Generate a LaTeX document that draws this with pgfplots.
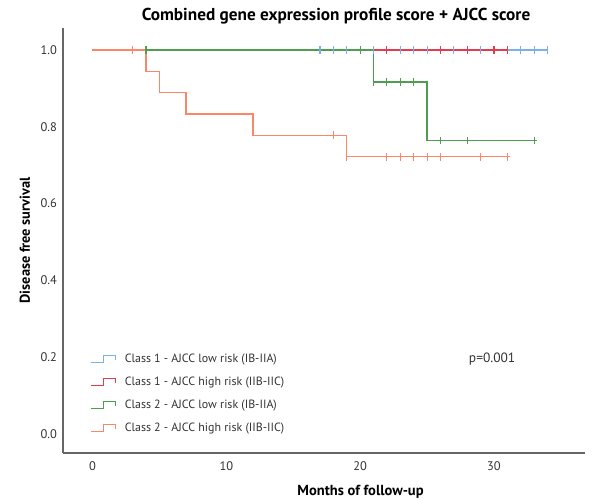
\documentclass[border=0pt]{standalone}
\usepackage{fontspec}
\setmainfont{PT Sans}
\usepackage{pgfplots}
\pgfplotsset{compat=1.18}

\definecolor{kmblue}{HTML}{7AB2E4}
\definecolor{kmred}{HTML}{E23C50}
\definecolor{kmgreen}{HTML}{4F9E4F}
\definecolor{kmorange}{HTML}{FA8868}
\definecolor{axgray}{HTML}{666666}
\definecolor{txtgray}{HTML}{333333}

\pgfplotsset{
  km/.style={const plot, line width=1.4bp, mark=none},
  cens/.style={only marks, mark=|, mark size=3.8bp, line width=1.1bp, forget plot},
}

\begin{document}
\begin{tikzpicture}
\useasboundingbox (0,0) rectangle (592bp,500bp);
\begin{axis}[
    at={(63bp,47bp)}, anchor=south west,
    scale only axis,
    width=522bp, height=425bp,
    xmin=-2.2, xmax=36.8,
    ymin=-0.0495, ymax=1.0573,
    axis x line*=bottom, axis y line*=left,
    axis line style={axgray, line width=1.2bp, -},
    xtick={0,10,20,30},
    ytick={0,0.2,0.4,0.6,0.8,1.0},
    major tick length=0pt,
    /pgf/number format/assume math mode=true,
    tick label style={font=\fontsize{12.5}{14}\selectfont, text=txtgray},
    xticklabel style={anchor=center, yshift=-13bp},
    yticklabel style={anchor=east, inner sep=0pt, xshift=-6bp,
      /pgf/number format/fixed, /pgf/number format/fixed zerofill,
      /pgf/number format/precision=1},
    title={Combined gene expression profile score + AJCC score},
    title style={at={(axis cs:18.2,1.073)}, anchor=center, font=\bfseries\fontsize{17.3}{20}\selectfont},
    xlabel={Months of follow-up},
    xlabel style={at={(axis cs:20.03,-0.151)}, anchor=center, font=\bfseries\fontsize{14.6}{17}\selectfont},
    ylabel={Disease free survival},
    ylabel style={at={(axis cs:-5.04,0.504)}, anchor=center, font=\bfseries\fontsize{14.4}{17}\selectfont},
    clip=false,
    legend cell align=left,
    legend style={at={(rel axis cs:0.046,0.24)}, anchor=north west, draw=none, fill=none,
      font=\fontsize{12}{14}\selectfont, text=txtgray,
      row sep=11bp,
      nodes={inner sep=0pt, text height=9bp, text depth=3bp},
      /tikz/every odd column/.append style={column sep=0pt}},
    legend image code/.code={
      \path[draw=none, fill=none] (0bp,0bp) -- (34bp,0bp);
      \draw[#1, line width=1.1bp] (0bp,-3.5bp) -- (13bp,-3.5bp) -- (13bp,3.5bp) -- (25bp,3.5bp) -- (25bp,-1bp);
    },
]
% Class 1 - low risk
\addplot[km, kmblue] coordinates {(0,1) (34,1)};
\addlegendentry{Class 1 - AJCC low risk (IB-IIA)}
\addplot[cens, kmblue] coordinates {
  (17,1) (18,1) (19,1) (21,1) (23,1) (24,1) (25,1) (27,1) (29,1) (32,1) (33,1) (34,1)};

% Class 1 - high risk
\addplot[km, kmred] coordinates {(0,1) (31,1)};
\addlegendentry{Class 1 - AJCC high risk (IIB-IIC)}
\addplot[cens, kmred] coordinates {(22,1) (26,1) (28,1) (30,1) (31,1)};

% Class 2 - low risk
\addplot[km, kmgreen] coordinates {
  (0,1) (21,0.917) (25,0.764) (33.2,0.764)};
\addlegendentry{Class 2 - AJCC low risk (IB-IIA)}
\addplot[cens, kmgreen] coordinates {
  (4,1) (20,1) (21,0.917) (22,0.917) (23,0.917) (24,0.917)
  (26,0.764) (28,0.764) (33,0.764)};

% Class 2 - high risk
\addplot[km, kmorange] coordinates {
  (0,1) (4,0.944) (5,0.889) (7,0.833) (12,0.778) (19,0.722) (31.2,0.722)};
\addlegendentry{Class 2 - AJCC high risk (IIB-IIC)}
\addplot[cens, kmorange] coordinates {
  (3,1) (18,0.778) (19,0.722) (22,0.722) (23,0.722) (24,0.722)
  (25,0.722) (26,0.722) (29,0.722) (31,0.722)};

\node[font=\fontsize{13.5}{15}\selectfont, text=txtgray] at (axis cs:29.86,0.195) {p=0.001};
\end{axis}
\end{tikzpicture}
\end{document}
